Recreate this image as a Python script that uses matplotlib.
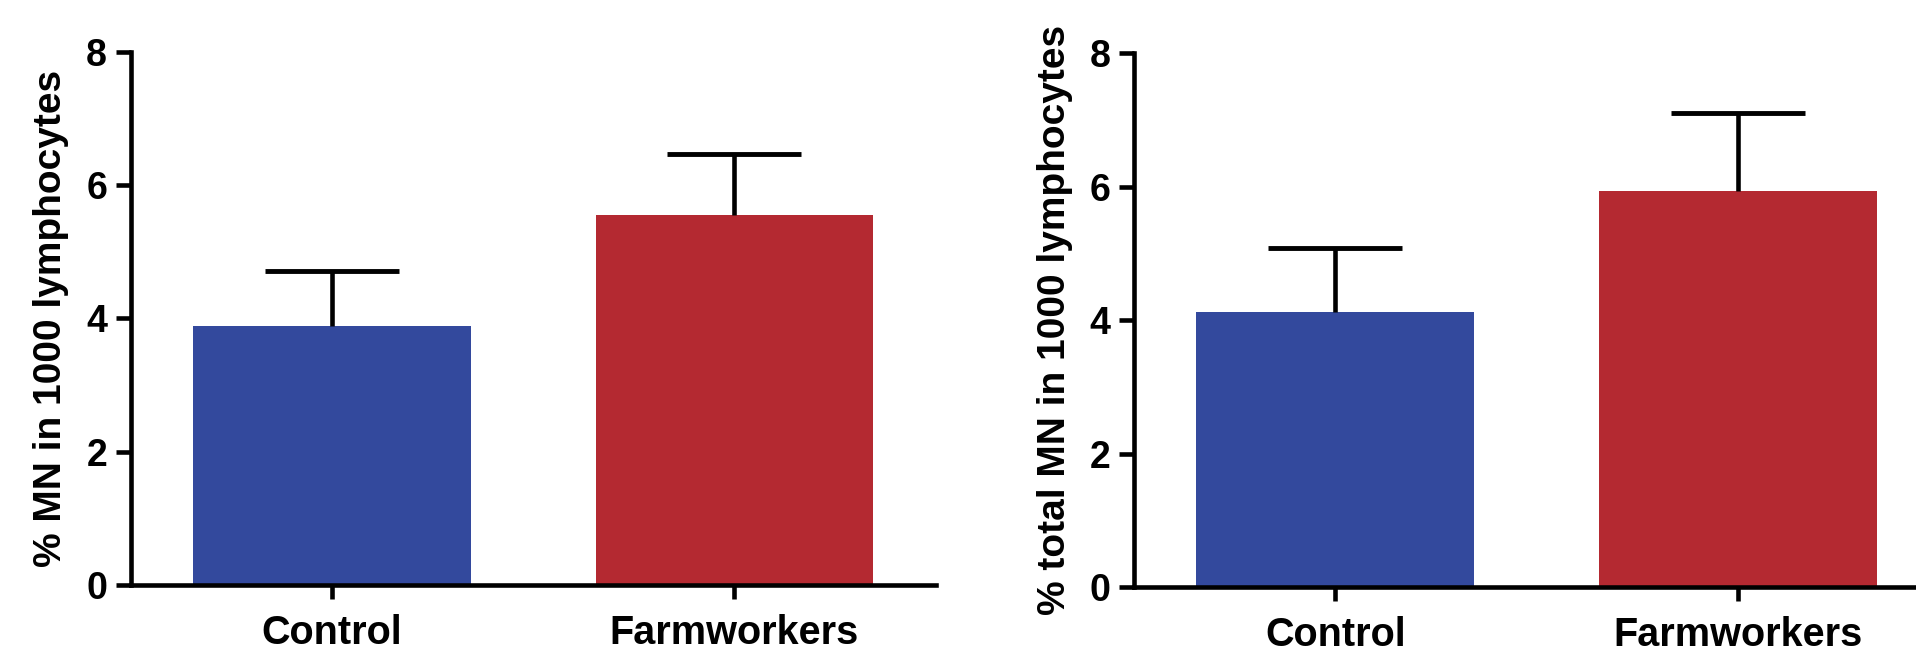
import matplotlib
matplotlib.use('Agg')
import matplotlib.pyplot as plt

plt.rcParams['font.family'] = ['Liberation Sans', 'DejaVu Sans']
plt.rcParams['font.weight'] = 'bold'

groups = ['Control', 'Farmworkers']
colors = ['#33499D', '#B42931']

# left panel: % MN in 1000 lymphocytes
mn_mean = [3.88, 5.55]
mn_err = [0.83, 0.91]

# right panel: % total MN in 1000 lymphocytes
total_mean = [4.13, 5.94]
total_err = [0.95, 1.16]

yticks = [0, 2, 4, 6, 8]

fig = plt.figure(figsize=(19.16, 6.47), dpi=100)
ax1 = fig.add_axes([0.0682, 0.0958, 0.4202, 0.8243])
ax2 = fig.add_axes([0.5919, 0.0923, 0.4202, 0.8253])


def draw(ax, means, errs, ylabel):
    x = list(range(len(groups)))
    ax.bar(x, means, width=0.69, color=colors, zorder=2)
    # upper error only, no cap at the bar top
    eb = ax.errorbar(x, means, yerr=[[0] * len(errs), errs], fmt='none',
                     ecolor='black', elinewidth=3.3, capsize=48,
                     capthick=3.5, zorder=3)
    for cap in eb[1]:
        if list(cap.get_ydata()) == list(means):
            cap.set_visible(False)
    ax.set_xlim(-0.5, 1.5)
    ax.set_ylim(0, 8)
    ax.set_yticks(yticks)
    ax.set_xticks(x)
    ax.set_xticklabels(groups, fontsize=28.5, fontweight='bold')
    ax.set_yticklabels([str(t) for t in yticks], fontsize=27, fontweight='bold')
    ax.set_ylabel(ylabel, fontsize=28, fontweight='bold', labelpad=12)
    for s in ['top', 'right']:
        ax.spines[s].set_visible(False)
    for s in ['left', 'bottom']:
        ax.spines[s].set_linewidth(3.3)
    ax.spines['bottom'].set_zorder(4)
    ax.tick_params(axis='y', length=11, width=3.3, pad=6)
    ax.tick_params(axis='x', length=10, width=3.3, pad=11)


draw(ax1, mn_mean, mn_err, '% MN in 1000 lymphocytes')
draw(ax2, total_mean, total_err, '% total MN in 1000 lymphocytes')

fig.savefig('out.png', dpi=100)
